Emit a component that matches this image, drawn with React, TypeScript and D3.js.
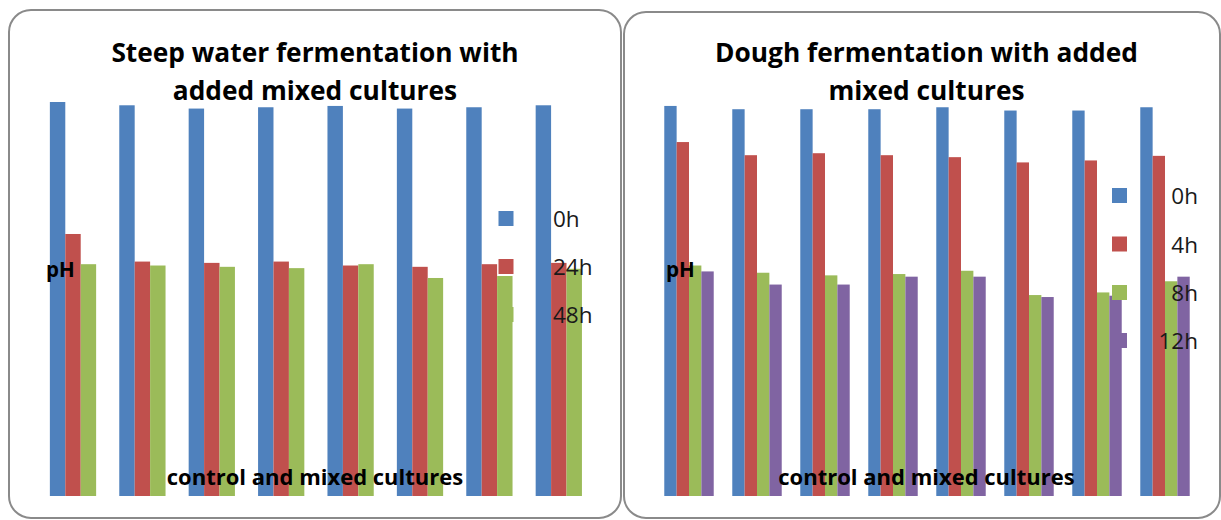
import React from "react";
import * as d3 from "d3";

// Cultures along the x axis (category names are not printed on the chart)
const cultures = ["Control", "MC1", "MC2", "MC3", "MC4", "MC5", "MC6", "MC7"];

// Steep water fermentation: pH by time
const steepTimes = ["0h", "24h", "48h"];
const steepPh0h = [6.0, 5.95, 5.9, 5.92, 5.94, 5.9, 5.92, 5.95];
const steepPh24h = [3.99, 3.57, 3.55, 3.57, 3.51, 3.49, 3.53, 3.55];
const steepPh48h = [3.53, 3.51, 3.49, 3.47, 3.53, 3.32, 3.35, 3.46];

// Dough fermentation: pH by time
const doughTimes = ["0h", "4h", "8h", "12h"];
const doughPh0h = [5.94, 5.89, 5.89, 5.89, 5.92, 5.87, 5.87, 5.92];
const doughPh4h = [5.39, 5.19, 5.22, 5.19, 5.16, 5.08, 5.11, 5.18];
const doughPh8h = [3.51, 3.4, 3.36, 3.38, 3.43, 3.06, 3.1, 3.27];
const doughPh12h = [3.42, 3.22, 3.22, 3.34, 3.34, 3.03, 3.05, 3.34];

const seriesColors = ["#4F81BD", "#C0504D", "#9BBB59", "#8064A2"];

const FONT = "'Open Sans', Lato, sans-serif";

type PanelProps = {
  frame: { x: number; y: number; w: number; h: number };
  titleLines: string[];
  titleX: number;
  plotX: [number, number];
  baseline: number;
  times: string[];
  values: number[][];
  legend: { markerX: number; textX: number; anchor: "start" | "end"; baselines: number[] };
  phX: number;
  axisTitleX: number;
};

function Panel(p: PanelProps) {
  const n = p.times.length;
  const pad = 1.5 / (n + 1.5);
  const x = d3
    .scaleBand<string>()
    .domain(cultures)
    .range(p.plotX)
    .paddingInner(pad)
    .paddingOuter(pad / 2);
  const xi = d3.scaleBand<string>().domain(p.times).range([0, x.bandwidth()]);
  const y = d3.scaleLinear().domain([0, 6]).range([p.baseline, 102]);

  return (
    <g>
      <rect
        x={p.frame.x}
        y={p.frame.y}
        width={p.frame.w}
        height={p.frame.h}
        rx={22}
        ry={22}
        fill="#ffffff"
        stroke="#8a8a8a"
        strokeWidth={2}
      />
      <text
        x={p.titleX}
        textAnchor="middle"
        fontFamily={FONT}
        fontWeight="bold"
        fontSize={26.3}
        fill="#000"
      >
        {p.titleLines.map((t, i) => (
          <tspan key={i} x={p.titleX} y={62 + i * 38}>
            {t}
          </tspan>
        ))}
      </text>
      {cultures.map((c, ci) => (
        <g key={c} transform={`translate(${x(c)},0)`}>
          {p.times.map((t, ti) => {
            const v = p.values[ti][ci];
            return (
              <rect
                key={t}
                x={xi(t)}
                y={y(v)}
                width={xi.bandwidth()}
                height={y(0) - y(v)}
                fill={seriesColors[ti]}
              />
            );
          })}
        </g>
      ))}
      <text
        x={p.phX}
        y={277}
        fontFamily={FONT}
        fontWeight="bold"
        fontSize={20.5}
        fill="#000"
      >
        pH
      </text>
      <text
        x={p.axisTitleX}
        y={485}
        textAnchor="middle"
        fontFamily={FONT}
        fontWeight="bold"
        fontSize={22}
        fill="#000"
      >
        control and mixed cultures
      </text>
      {p.times.map((t, ti) => {
        const b = p.legend.baselines[ti];
        return (
          <g key={t}>
            <rect
              x={p.legend.markerX}
              y={b - 16}
              width={15}
              height={15}
              fill={seriesColors[ti]}
            />
            <text
              x={p.legend.textX}
              y={b}
              textAnchor={p.legend.anchor}
              fontFamily={FONT}
              fontSize={22.5}
              fill="#1a1a1a"
            >
              {t}
            </text>
          </g>
        );
      })}
    </g>
  );
}

export default function App() {
  return (
    <svg
      width={1221}
      height={520}
      style={{ position: "absolute", left: 0, top: 0, background: "#fff" }}
    >
      <Panel
        frame={{ x: 9, y: 10, w: 612, h: 508 }}
        titleLines={["Steep water fermentation with", "added mixed cultures"]}
        titleX={315}
        plotX={[38.3, 593.5]}
        baseline={496}
        times={steepTimes}
        values={[steepPh0h, steepPh24h, steepPh48h]}
        legend={{ markerX: 498.5, textX: 553, anchor: "start", baselines: [227, 275, 323] }}
        phX={46}
        axisTitleX={315}
      />
      <Panel
        frame={{ x: 624, y: 12, w: 596, h: 506 }}
        titleLines={["Dough fermentation with added", "mixed cultures"]}
        titleX={926.5}
        plotX={[655, 1199]}
        baseline={496}
        times={doughTimes}
        values={[doughPh0h, doughPh4h, doughPh8h, doughPh12h]}
        legend={{ markerX: 1112, textX: 1198, anchor: "end", baselines: [204, 252.5, 301, 349] }}
        phX={666}
        axisTitleX={926.5}
      />
    </svg>
  );
}
